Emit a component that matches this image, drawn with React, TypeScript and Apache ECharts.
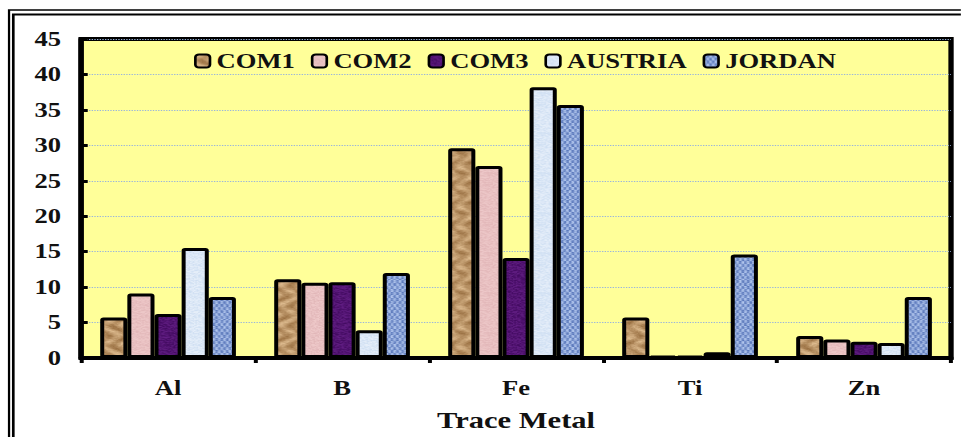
import React, { useEffect, useRef } from "react";
import * as echarts from "echarts";

// Trace metal concentrations per sample
const metals = ["Al", "B", "Fe", "Ti", "Zn"];
const seriesNames = ["COM1", "COM2", "COM3", "AUSTRIA", "JORDAN"];
const com1 = [5.7, 11.1, 29.6, 5.7, 3.1];
const com2 = [9.1, 10.6, 27.1, 0.3, 2.6];
const com3 = [6.2, 10.7, 14.1, 0.3, 2.3];
const austria = [15.5, 3.9, 38.2, 0.8, 2.1];
const jordan = [8.6, 12.0, 35.7, 14.6, 8.6];
const yTicks = { min: 0, max: 45, interval: 5 };

// The chart is laid out narrower and stretched horizontally, giving the wide type.
const STRETCH = 1.329;
const BASE_W = 723;
const H = 437;
const SERIF = "'Liberation Serif', 'Times New Roman', serif";
const INK = "#111";

type RGB = [number, number, number];

function hash(x: number, y: number): number {
  const s = Math.sin(x * 12.9898 + y * 78.233) * 43758.5453;
  return s - Math.floor(s);
}

function mix(a: RGB, b: RGB, t: number): RGB {
  const k = Math.max(0, Math.min(1, t));
  return [a[0] + (b[0] - a[0]) * k, a[1] + (b[1] - a[1]) * k, a[2] + (b[2] - a[2]) * k];
}

// Fill textures for the bars
function makeTexture(kind: string): HTMLCanvasElement {
  const size = 40;
  const cv = document.createElement("canvas");
  cv.width = size;
  cv.height = size;
  const ctx = cv.getContext("2d")!;
  const img = ctx.createImageData(size, size);
  for (let y = 0; y < size; y++) {
    for (let x = 0; x < size; x++) {
      const n = hash(x, y);
      let c: RGB;
      if (kind === "paper") {
        const u = x / size;
        const v = y / size;
        const w =
          0.5 +
          0.3 * Math.sin(u * Math.PI * 6 + 2.5 * Math.sin(v * Math.PI * 4)) +
          0.2 * Math.cos(v * Math.PI * 8 - 2 * Math.sin(u * Math.PI * 2));
        c = mix([150, 108, 62], [224, 190, 146], w * 0.75 + n * 0.25);
      } else if (kind === "weave") {
        const a = (Math.floor(x / 2) + Math.floor(y / 3)) % 2 === 0 ? 1 : 0;
        c = mix([88, 118, 186], [180, 200, 238], a * 0.6 + n * 0.4);
      } else if (kind === "pink") {
        c = mix([224, 180, 182], [240, 204, 204], 0.5 + (n - 0.5) * 0.8);
      } else if (kind === "purple") {
        c = mix([66, 10, 96], [98, 30, 132], n);
      } else {
        c = mix([206, 222, 242], [232, 240, 250], n);
      }
      const i = (y * size + x) * 4;
      img.data[i] = c[0];
      img.data[i + 1] = c[1];
      img.data[i + 2] = c[2];
      img.data[i + 3] = 255;
    }
  }
  ctx.putImageData(img, 0, 0);
  return cv;
}

export default function App() {
  const ref = useRef<HTMLDivElement>(null);

  useEffect(() => {
    if (!ref.current) return;
    const chart = echarts.init(ref.current, undefined, { renderer: "svg" });

    const values = [com1, com2, com3, austria, jordan];
    const textures = ["paper", "pink", "purple", "light", "weave"];

    const series = seriesNames.map((name, i) => ({
      name,
      type: "bar" as const,
      data: values[i],
      barGap: "0%",
      barCategoryGap: "22%",
      itemStyle: {
        color: { image: makeTexture(textures[i]), repeat: "repeat" },
        borderColor: "#000",
        borderWidth: 3,
        borderRadius: 1,
      },
    }));

    chart.setOption({
      animation: false,
      backgroundColor: "#ffffff",
      graphic: [
        {
          type: "rect",
          z: 100,
          silent: true,
          shape: { x: 6.8, y: 10, width: 2000, height: 1000 },
          style: { fill: "none", stroke: "#000", lineWidth: 1.7 },
        },
        {
          type: "rect",
          z: 100,
          silent: true,
          shape: { x: 10, y: 14.5, width: 2000, height: 1000 },
          style: { fill: "none", stroke: "#000", lineWidth: 2 },
        },
      ],
      legend: {
        left: 141,
        top: 46,
        icon: "roundRect",
        itemWidth: 11,
        itemHeight: 13,
        itemGap: 12,
        textStyle: { fontFamily: SERIF, fontWeight: "bold", fontSize: 20, color: INK },
        data: seriesNames,
      },
      grid: {
        left: 61,
        right: 7.4,
        top: 39,
        bottom: 79,
        show: true,
        backgroundColor: "#ffff99",
        borderColor: "#000",
        borderWidth: 4,
        outerBoundsMode: "none",
      },
      xAxis: {
        type: "category",
        data: metals,
        name: "Trace Metal",
        nameLocation: "middle",
        nameGap: 51,
        nameTextStyle: { fontFamily: SERIF, fontWeight: "bold", fontSize: 23, color: INK },
        axisLine: { lineStyle: { color: "#000", width: 4 } },
        axisTick: { show: true, length: 5, lineStyle: { color: "#000", width: 3 } },
        axisLabel: { margin: 20, fontFamily: SERIF, fontWeight: "bold", fontSize: 20, color: INK },
      },
      yAxis: {
        type: "value",
        min: yTicks.min,
        max: yTicks.max,
        interval: yTicks.interval,
        axisLine: { show: true, lineStyle: { color: "#000", width: 4 } },
        axisTick: { show: true, inside: true, length: 5, lineStyle: { color: "#000", width: 3 } },
        axisLabel: { margin: 15, fontFamily: SERIF, fontWeight: "bold", fontSize: 20, color: INK },
        splitLine: { lineStyle: { type: "dotted", color: "#98b4dc", width: 1 } },
      },
      series,
    });

    return () => chart.dispose();
  }, []);

  return (
    <div style={{ position: "absolute", left: 0, top: 0, width: 961, height: H, overflow: "hidden", background: "#fff" }}>
      <div
        ref={ref}
        style={{
          width: BASE_W,
          height: H,
          transform: `scaleX(${STRETCH})`,
          transformOrigin: "0 0",
        }}
      />
    </div>
  );
}
